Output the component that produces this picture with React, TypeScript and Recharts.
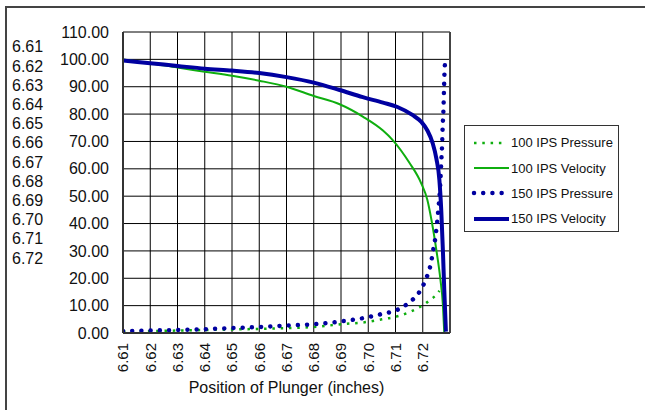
import { LineChart, Line, XAxis, YAxis, CartesianGrid, Legend, Label, ReferenceLine } from "recharts";

const xTicks = [6.61, 6.62, 6.63, 6.64, 6.65, 6.66, 6.67, 6.68, 6.69, 6.7, 6.71, 6.72, 6.73];
const yTicks = [0, 10, 20, 30, 40, 50, 60, 70, 80, 90, 100, 110];
const sideLabels = ["6.61", "6.62", "6.63", "6.64", "6.65", "6.66", "6.67", "6.68", "6.69", "6.70", "6.71", "6.72"];

// 100 IPS pressure (green dots)
const p100X = [6.61, 6.62, 6.63, 6.64, 6.65, 6.66, 6.67, 6.68, 6.69, 6.7, 6.705, 6.71, 6.715, 6.7176, 6.7202, 6.7227, 6.7249, 6.7261];
const p100Y = [0.5, 0.7, 0.9, 1.1, 1.3, 1.5, 1.8, 2.2, 3.2, 4.1, 5.0, 5.9, 7.6, 8.8, 10.2, 12.1, 13.9, 15.4];

// 100 IPS velocity (green line)
const v100X = [6.61, 6.62, 6.63, 6.64, 6.65, 6.66, 6.67, 6.68, 6.6895, 6.698, 6.7054, 6.7089, 6.7151, 6.7194, 6.7217, 6.7232, 6.725, 6.7265, 6.7274, 6.7279];
const v100Y = [100, 98.6, 97.0, 95.5, 94.0, 92.2, 90.0, 86.6, 83.6, 79.1, 74.0, 70.6, 62.2, 54.8, 48.6, 41.3, 30.3, 19.4, 10.2, 0];

// 150 IPS pressure (blue dots)
const p150X = [6.61, 6.62, 6.63, 6.64, 6.65, 6.66, 6.67, 6.68, 6.6905, 6.6968, 6.7005, 6.7039, 6.7072, 6.7105, 6.7135, 6.7161, 6.7185, 6.7204, 6.7216, 6.7227, 6.7234, 6.724, 6.7246, 6.7251, 6.7255, 6.7258, 6.7261, 6.7265, 6.7268, 6.7271, 6.7273, 6.7276, 6.7278, 6.728, 6.7283];
const p150Y = [0.7, 0.9, 1.1, 1.4, 1.8, 2.2, 2.7, 3.2, 4.3, 5.2, 5.9, 6.7, 7.4, 8.4, 10.0, 12.0, 14.6, 17.9, 20.8, 24.2, 27.7, 31.3, 34.6, 38.9, 42.5, 46.2, 49.3, 55.9, 62.6, 68.7, 75.2, 81.8, 89.1, 95.8, 99.5];

// 150 IPS velocity (blue line)
const v150X = [6.61, 6.62, 6.63, 6.64, 6.65, 6.66, 6.67, 6.68, 6.6895, 6.698, 6.7054, 6.7107, 6.7162, 6.7195, 6.7217, 6.7236, 6.725, 6.7261, 6.7268, 6.7274, 6.7279, 6.7285];
const v150Y = [99.6, 98.6, 97.6, 96.6, 95.9, 95.0, 93.5, 91.5, 88.8, 86.2, 84.2, 82.6, 79.7, 77.1, 74.0, 69.5, 63.7, 56.0, 44.6, 30.0, 15.7, 0.5];

const zip = (xs: number[], ys: number[]) => xs.map((x, i) => ({ x, y: ys[i] }));

const GREEN = "#0fae0f";
const BLUE = "#0000a0";
const FONT = "'Liberation Sans', Arial, sans-serif";

const series = [
  { name: "100 IPS Pressure", data: zip(p100X, p100Y), color: GREEN, width: 2.5, dash: "2.5 5.8", cap: "butt" },
  { name: "100 IPS Velocity", data: zip(v100X, v100Y), color: GREEN, width: 2, dash: undefined, cap: "butt" },
  { name: "150 IPS Pressure", data: zip(p150X, p150Y), color: BLUE, width: 4.5, dash: "0.01 9.2", cap: "round" },
  { name: "150 IPS Velocity", data: zip(v150X, v150Y), color: BLUE, width: 4, dash: undefined, cap: "butt" },
];

const XTick = (props: any) => {
  const { x, y, payload } = props;
  if (payload.value > 6.725) return <g />;
  return (
    <g transform={`translate(${x},${y})`}>
      <text transform="rotate(-90)" textAnchor="end" dy="0.35em" fontSize={15} fill="#111" fontFamily={FONT}>
        {payload.value.toFixed(2)}
      </text>
    </g>
  );
};

const LegendBox = () => (
  <div
    style={{
      width: 155,
      height: 107,
      boxSizing: "border-box",
      border: "1px solid #333",
      background: "#fff",
      paddingTop: 4,
      fontFamily: FONT,
      fontSize: 13,
      color: "#111",
    }}
  >
    {series.map((s) => (
      <div key={s.name} style={{ height: 25.4, display: "flex", alignItems: "center" }}>
        <svg width={46} height={10} style={{ flex: "none" }}>
          <line
            x1={9}
            x2={s.dash ? 41 : 44}
            y1={5}
            y2={5}
            stroke={s.color}
            strokeWidth={s.width}
            strokeDasharray={s.dash}
            strokeLinecap={s.cap as any}
          />
        </svg>
        <span>{s.name}</span>
      </div>
    ))}
  </div>
);

export default function App() {
  return (
    <div style={{ position: "absolute", left: 0, top: 0, width: 645, height: 410, overflow: "hidden", background: "#fff" }}>
      <div
        style={{
          position: "absolute",
          left: 5,
          top: 6,
          width: 700,
          height: 500,
          border: "2px solid #444",
        }}
      />
      <div
        style={{
          position: "absolute",
          left: 12,
          top: 37.4,
          fontFamily: FONT,
          fontSize: 16,
          lineHeight: "19.2px",
          color: "#111",
        }}
      >
        {sideLabels.map((t) => (
          <div key={t}>{t}</div>
        ))}
      </div>
      <div style={{ position: "absolute", left: 0, top: 0 }}>
        <LineChart width={645} height={410} margin={{ top: 32, right: 195, bottom: 0, left: 0 }}>
          <CartesianGrid stroke="#000" strokeWidth={1} />
          <XAxis
            dataKey="x"
            type="number"
            domain={[6.61, 6.73]}
            ticks={xTicks}
            allowDataOverflow
            height={77}
            tickLine={false}
            tickSize={6}
            tickMargin={4}
            tick={<XTick />}
            axisLine={{ stroke: "#333", strokeWidth: 2 }}
            interval={0}
          >
            <Label
              value="Position of Plunger (inches)"
              position="insideBottom"
              offset={17}
              style={{ fontSize: 16, fill: "#111", fontFamily: FONT }}
            />
          </XAxis>
          <YAxis
            dataKey="y"
            type="number"
            domain={[0, 110]}
            ticks={yTicks}
            width={123}
            tickLine={false}
            tickMargin={8}
            interval={0}
            tickFormatter={(v: number) => v.toFixed(2)}
            tick={{ fontSize: 16, fill: "#111", fontFamily: FONT }}
            axisLine={{ stroke: "#333", strokeWidth: 2 }}
          />
          <ReferenceLine x={6.73} stroke="#444" strokeWidth={2} />
          {series.map((s) => (
            <Line
              key={s.name}
              data={s.data}
              dataKey="y"
              name={s.name}
              type="monotone"
              stroke={s.color}
              strokeWidth={s.width}
              strokeDasharray={s.dash}
              strokeLinecap={s.cap as any}
              dot={false}
              activeDot={false}
              isAnimationActive={false}
            />
          ))}
          <Legend
            layout="vertical"
            align="center"
            verticalAlign="middle"
            wrapperStyle={{ left: 464, top: 125, width: 155, height: 107 }}
            content={<LegendBox />}
          />
        </LineChart>
      </div>
    </div>
  );
}
